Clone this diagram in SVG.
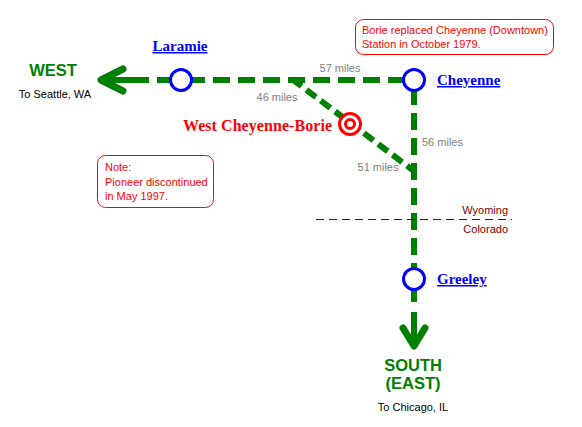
<svg xmlns="http://www.w3.org/2000/svg" width="582" height="427" viewBox="0 0 582 427">
<style>
.trk{fill:none;stroke:#008000;stroke-width:6}
.dash{stroke-dasharray:17 8}
.ddash{stroke-dasharray:12 6}
.head{fill:none;stroke:#008000;stroke-width:7;stroke-linecap:round;stroke-linejoin:round}
.stn{fill:#fff;stroke:#0000ff;stroke-width:3}
.sl{font-family:"Liberation Serif",serif;font-weight:bold;font-size:15px;fill:#0000ff;text-decoration:underline}
.wcb{font-family:"Liberation Serif",serif;font-weight:bold;font-size:16px;fill:#ff0000;text-anchor:end}
.dir{font-family:"Liberation Sans",sans-serif;font-weight:bold;font-size:16.5px;fill:#008000;text-anchor:middle}
.sub{font-family:"Liberation Sans",sans-serif;font-size:11px;fill:#000;text-anchor:middle}
.mi{font-family:"Liberation Sans",sans-serif;font-size:11px;fill:#808080}
.note{font-family:"Liberation Sans",sans-serif;font-size:11px;fill:#ff0000}
.box{fill:#fff;stroke:#ff0000;stroke-width:1}
.st{font-family:"Liberation Sans",sans-serif;font-size:11px;fill:#800000;text-anchor:end}
</style>
<rect width="582" height="427" fill="#fff"/>
<g id="connectors">
<path class="trk" d="M102,80 H149"/>
<path class="trk" d="M157,80 H172"/>
<path class="trk dash" d="M163,80 H408"/>
<path class="head" d="M123,69 L101,80 L123,91"/>
<path class="trk ddash" d="M292,79 L414,171"/>
<path class="trk dash" d="M414,88 V302"/>
<path class="trk" d="M414,312 V343"/>
<path class="head" d="M403,328 L414,346 L425,328"/>
</g>
<g id="state-line">
<path d="M316,219.5 H512" stroke="#800000" stroke-width="1" stroke-dasharray="8 5" fill="none"/>
<text class="st" x="508" y="214">Wyoming</text>
<text class="st" x="508" y="233">Colorado</text>
</g>
<g id="west">
<text class="dir" x="53" y="76">WEST</text>
<text class="sub" x="55" y="98">To Seattle, WA</text>
</g>
<g id="laramie">
<circle class="stn" cx="181" cy="80" r="10.5"/>
<text class="sl" x="180" y="51" text-anchor="middle">Laramie</text>
</g>
<g id="cheyenne">
<circle class="stn" cx="414" cy="80" r="10.5"/>
<text class="sl" x="437" y="85">Cheyenne</text>
</g>
<g id="west-cheyenne-borie">
<circle cx="350" cy="124" r="10.5" fill="#fff" stroke="#ff0000" stroke-width="3"/>
<circle cx="350" cy="124" r="4.5" fill="#fff" stroke="#ff0000" stroke-width="3"/>
<text class="wcb" x="332" y="131" textLength="149" lengthAdjust="spacing">West Cheyenne-Borie</text>
</g>
<g id="greeley">
<circle class="stn" cx="414" cy="279" r="10.5"/>
<text class="sl" x="437" y="284">Greeley</text>
</g>
<g id="south">
<text class="dir" x="413" y="371">SOUTH</text>
<text class="dir" x="413" y="389">(EAST)</text>
<text class="sub" x="413" y="411">To Chicago, IL</text>
</g>
<g id="miles">
<text class="mi" x="340" y="72" text-anchor="middle">57 miles</text>
<text class="mi" x="277" y="101" text-anchor="middle">46 miles</text>
<text class="mi" x="422" y="146">56 miles</text>
<text class="mi" x="378" y="171" text-anchor="middle">51 miles</text>
</g>
<g id="note-pioneer">
<rect class="box" x="97.5" y="155.5" width="116" height="52" rx="8"/>
<text class="note" x="105" y="171">Note:</text>
<text class="note" x="105" y="186">Pioneer discontinued</text>
<text class="note" x="105" y="200">in May 1997.</text>
</g>
<g id="note-borie">
<rect class="box" x="355.5" y="19.5" width="198" height="35" rx="8"/>
<text class="note" x="362" y="34">Borie replaced Cheyenne (Downtown)</text>
<text class="note" x="362" y="48">Station in October 1979.</text>
</g>
</svg>
